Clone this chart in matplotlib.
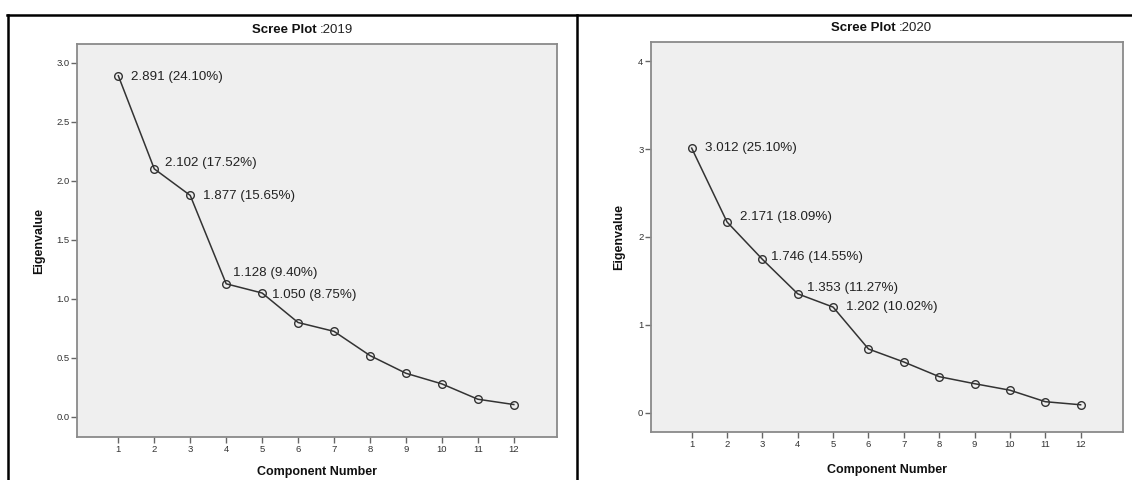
import numpy as np
import matplotlib.pyplot as plt
from matplotlib.lines import Line2D

plt.rcParams['font.family'] = ['Liberation Sans', 'DejaVu Sans']

components = np.arange(1, 13)
eig_2019 = [2.891, 2.102, 1.877, 1.128, 1.050, 0.80, 0.725, 0.52, 0.37, 0.28, 0.15, 0.105]
eig_2020 = [3.012, 2.171, 1.746, 1.353, 1.202, 0.725, 0.577, 0.41, 0.33, 0.256, 0.125, 0.09]
labels_2019 = ['2.891 (24.10%)', '2.102 (17.52%)', '1.877 (15.65%)', '1.128 (9.40%)', '1.050 (8.75%)']
labels_2020 = ['3.012 (25.10%)', '2.171 (18.09%)', '1.746 (14.55%)', '1.353 (11.27%)', '1.202 (10.02%)']
# label offsets in pixels (dx, dy)
offs_2019 = [(13, -1), (11, 6), (13, -1), (7, 11), (10, -2)]
offs_2020 = [(13, 0), (13, 5), (9, 2), (9, 6), (13, 0)]

fig = plt.figure(figsize=(11.32, 4.8), dpi=100)
ax1 = fig.add_axes([0.0680, 0.0896, 0.4240, 0.8187])
ax2 = fig.add_axes([0.5751, 0.1000, 0.4170, 0.8125])


def scree(ax, y, labels, offs, ylim, yticks, yfmt, year, title_x):
    ax.set_facecolor('#efefef')
    ax.plot(components, y, color='#333333', lw=1.1, marker='o', ms=5.5,
            mfc='none', mec='#333333', mew=1.0)
    for i, (lab, off) in enumerate(zip(labels, offs)):
        ax.annotate(lab, (components[i], y[i]), xytext=off, textcoords='offset pixels',
                    ha='left', va='center', fontsize=9.6, color='#222222')
    ax.set_xlim(-0.15, 13.2)
    ax.set_ylim(*ylim)
    ax.set_xticks(components)
    ax.set_yticks(yticks)
    ax.set_yticklabels([yfmt.format(v) for v in yticks])
    for s in ax.spines.values():
        s.set_color('#8a8a8a')
        s.set_linewidth(1.3)
    ax.tick_params(length=4, width=1, color='#666666', labelsize=6.8, labelcolor='#333333', pad=1.5)
    ax.set_ylabel('Eigenvalue', fontsize=9, fontweight='bold', color='#111111')
    ax.set_xlabel('Component Number', fontsize=9, fontweight='bold', color='#111111')
    ax.text(title_x, 1.035, 'Scree Plot ', transform=ax.transAxes, ha='right', va='center',
            fontsize=9.5, fontweight='bold', color='#111111')
    ax.text(title_x, 1.035, ':' + year, transform=ax.transAxes, ha='left', va='center',
            fontsize=9.5, color='#222222')


scree(ax1, eig_2019, labels_2019, offs_2019, (-0.17, 3.16), [0.0, 0.5, 1.0, 1.5, 2.0, 2.5, 3.0],
      '{:.1f}', '2019', 0.506)
scree(ax2, eig_2020, labels_2020, offs_2020, (-0.22, 4.22), [0, 1, 2, 3, 4],
      '{:d}', '2020', 0.525)
ax1.yaxis.set_label_coords(-0.067, 0.5)
ax1.xaxis.set_label_coords(0.5, -0.075)
ax2.yaxis.set_label_coords(-0.055, 0.5)
ax2.xaxis.set_label_coords(0.5, -0.082)

# table borders around the two panels
fig.add_artist(Line2D([7 / 1132, 1], [1 - 15 / 480] * 2, color='black', lw=1.8))
fig.add_artist(Line2D([8 / 1132] * 2, [0, 1 - 15 / 480], color='black', lw=1.8))
fig.add_artist(Line2D([577 / 1132] * 2, [0, 1 - 15 / 480], color='black', lw=1.8))

fig.savefig('out.png', dpi=100)
